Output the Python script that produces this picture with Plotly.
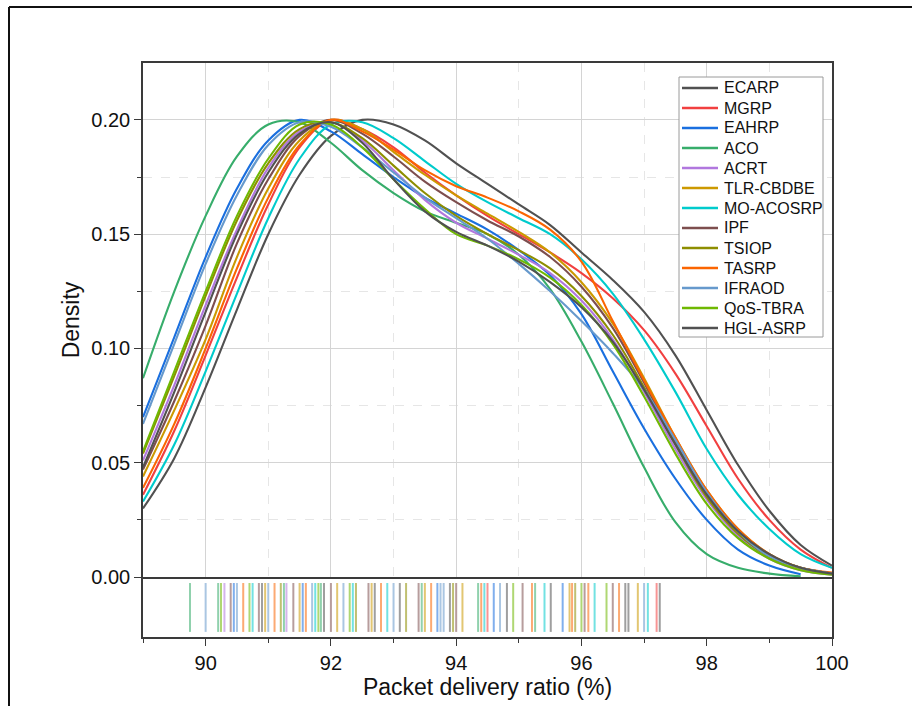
import plotly.graph_objects as go

# Packet delivery ratio grid (%) on which each density curve is tabulated
pdr_grid = [89.0, 89.5, 90.0, 90.5, 91.0, 91.5, 92.0, 92.5, 93.0, 93.5, 94.0, 94.5,
            95.0, 95.5, 96.0, 96.5, 97.0, 97.5, 98.0, 98.5, 99.0, 99.5, 100.0]

# Kernel density of the packet delivery ratio per protocol
ecarp_density = [0.030, 0.052, 0.083, 0.117, 0.150, 0.176, 0.193, 0.200, 0.198, 0.191, 0.181, 0.172,
                 0.163, 0.154, 0.142, 0.130, 0.116, 0.097, 0.073, 0.049, 0.029, 0.014, 0.005]
mgrp_density = [0.036, 0.064, 0.097, 0.131, 0.163, 0.188, 0.200, 0.196, 0.188, 0.177, 0.167, 0.158,
                0.150, 0.142, 0.133, 0.122, 0.108, 0.089, 0.066, 0.043, 0.025, 0.012, 0.004]
eahrp_density = [0.070, 0.105, 0.140, 0.170, 0.191, 0.200, 0.195, 0.185, 0.175, 0.166, 0.159, 0.152,
                 0.143, 0.132, 0.115, 0.090, 0.065, 0.043, 0.025, 0.012, 0.005, 0.0012]
aco_density = [0.087, 0.125, 0.158, 0.184, 0.198, 0.199, 0.190, 0.178, 0.168, 0.160, 0.155, 0.150,
               0.141, 0.126, 0.103, 0.076, 0.048, 0.024, 0.010, 0.004, 0.0015, 0.0003]
acrt_density = [0.051, 0.084, 0.119, 0.152, 0.179, 0.195, 0.199, 0.191, 0.178, 0.165, 0.155, 0.148,
                0.141, 0.133, 0.121, 0.104, 0.081, 0.056, 0.034, 0.018, 0.008, 0.003, 0.001]
tlr_density = [0.044, 0.073, 0.104, 0.140, 0.170, 0.191, 0.200, 0.196, 0.186, 0.176, 0.167, 0.159,
               0.151, 0.142, 0.129, 0.111, 0.087, 0.061, 0.038, 0.021, 0.010, 0.004, 0.0015]
moacosrp_density = [0.033, 0.058, 0.090, 0.124, 0.157, 0.183, 0.198, 0.199, 0.192, 0.182, 0.172, 0.164,
                    0.157, 0.150, 0.139, 0.124, 0.104, 0.081, 0.056, 0.036, 0.021, 0.010, 0.004]
ipf_density = [0.047, 0.077, 0.110, 0.146, 0.174, 0.193, 0.200, 0.194, 0.184, 0.173, 0.164, 0.156,
               0.149, 0.140, 0.127, 0.109, 0.085, 0.059, 0.036, 0.019, 0.009, 0.004, 0.0015]
tsiop_density = [0.054, 0.088, 0.123, 0.156, 0.181, 0.196, 0.199, 0.192, 0.180, 0.168, 0.158, 0.150,
                 0.143, 0.135, 0.123, 0.106, 0.083, 0.058, 0.035, 0.019, 0.009, 0.004, 0.0015]
tasrp_density = [0.039, 0.067, 0.100, 0.135, 0.166, 0.189, 0.200, 0.195, 0.187, 0.178, 0.171, 0.166,
                 0.160, 0.152, 0.138, 0.112, 0.086, 0.061, 0.038, 0.021, 0.010, 0.004, 0.002]
ifraod_density = [0.067, 0.102, 0.137, 0.167, 0.189, 0.199, 0.197, 0.188, 0.177, 0.166, 0.157, 0.148,
                  0.137, 0.125, 0.112, 0.098, 0.082, 0.060, 0.037, 0.020, 0.009, 0.004, 0.0015]
qos_density = [0.055, 0.090, 0.125, 0.158, 0.183, 0.198, 0.198, 0.188, 0.174, 0.161, 0.150, 0.145,
               0.139, 0.131, 0.119, 0.102, 0.079, 0.054, 0.032, 0.017, 0.008, 0.003, 0.001]
hgl_density = [0.048, 0.081, 0.116, 0.150, 0.177, 0.194, 0.199, 0.190, 0.174, 0.160, 0.151, 0.145,
               0.138, 0.129, 0.118, 0.103, 0.082, 0.058, 0.036, 0.020, 0.010, 0.004, 0.0015]

# Individual observations shown as a rug under the curves
ecarp_rug = [92.70, 93.90, 94.81, 95.51, 96.75, 97.25]
mgrp_rug = [94.50, 97.20]
eahrp_rug = [90.45, 91.55, 93.70, 94.60, 95.70]
aco_rug = [89.75, 90.20, 91.25, 91.84, 93.45, 94.35, 95.26]
acrt_rug = [90.30, 91.29]
tlr_rug = [90.95, 91.50, 92.10, 92.65, 93.50, 94.10, 95.81, 96.90]
moacosrp_rug = [90.75, 91.75, 92.35, 92.90, 94.45, 95.41, 96.21, 97.06]
ipf_rug = [90.40, 90.85, 91.40, 92.00, 92.60, 93.40, 94.00, 95.06, 96.05, 96.50]
tsiop_rug = [91.20, 92.40, 93.20, 93.95, 95.90]
tasrp_rug = [90.60, 91.10, 91.60, 92.80, 93.60, 94.40, 95.21, 95.85, 96.11, 96.60]
ifraod_rug = [90.00, 90.50, 91.00, 91.70, 92.20, 93.00, 93.75, 93.80, 94.70, 97.00]
qos_rug = [90.245, 90.70, 91.80, 92.30, 94.91, 96.00, 96.40]
hgl_rug = [90.90, 91.89, 93.10, 96.70]

protocols = ["ECARP", "MGRP", "EAHRP", "ACO", "ACRT", "TLR-CBDBE", "MO-ACOSRP",
             "IPF", "TSIOP", "TASRP", "IFRAOD", "QoS-TBRA", "HGL-ASRP"]
densities = [ecarp_density, mgrp_density, eahrp_density, aco_density, acrt_density, tlr_density,
             moacosrp_density, ipf_density, tsiop_density, tasrp_density, ifraod_density,
             qos_density, hgl_density]
rugs = [ecarp_rug, mgrp_rug, eahrp_rug, aco_rug, acrt_rug, tlr_rug, moacosrp_rug,
        ipf_rug, tsiop_rug, tasrp_rug, ifraod_rug, qos_rug, hgl_rug]
colors = ["#515151", "#F14040", "#1A6FDF", "#37AD6B", "#B177DE", "#CC9900", "#00CBCC",
          "#7D4E4E", "#8E8E00", "#FB6501", "#6699CC", "#6FB802", "#515151"]

x_major = [90, 92, 94, 96, 98, 100]
x_minor = [89, 91, 93, 95, 97, 99]
y_major = [0.00, 0.05, 0.10, 0.15, 0.20]
y_minor = [0.025, 0.075, 0.125, 0.175]

FONT = "Arial, Liberation Sans, sans-serif"
AXIS_COLOR = "#3a3a3a"
TEXT_COLOR = "#111111"

# Plot-area geometry in pixels, used to place the legend box in paper units
PLOT_L, PLOT_R, PLOT_T, PLOT_B = 143, 832, 63, 637


def px_x(px):
    return (px - PLOT_L) / (PLOT_R - PLOT_L)


def px_y(py):
    return (PLOT_B - py) / (PLOT_B - PLOT_T)


fig = go.Figure()

for name, dens, color in zip(protocols, densities, colors):
    fig.add_trace(go.Scatter(
        x=pdr_grid[:len(dens)], y=dens, name=name, mode="lines",
        line=dict(color=color, width=2.1, shape="spline", smoothing=1.0),
        xaxis="x", yaxis="y", showlegend=False,
    ))

for name, obs, color in zip(protocols, rugs, colors):
    xs, ys = [], []
    for v in obs:
        xs += [v, v, None]
        ys += [0.085, 0.9, None]
    fig.add_trace(go.Scatter(
        x=xs, y=ys, mode="lines", showlegend=False, hoverinfo="skip",
        line=dict(color=color, width=2), opacity=0.55,
        xaxis="x2", yaxis="y2",
    ))

fig.update_layout(
    width=912, height=706,
    margin=dict(l=PLOT_L, r=912 - PLOT_R, t=PLOT_T, b=706 - PLOT_B),
    paper_bgcolor="white", plot_bgcolor="white",
    font=dict(family=FONT, color=TEXT_COLOR),
    showlegend=False,
    xaxis=dict(
        domain=[0, 1], anchor="y", range=[89, 100],
        showline=True, mirror=True, linecolor=AXIS_COLOR, linewidth=1.5,
        ticks="", showticklabels=False,
        tickvals=x_major, showgrid=True, gridcolor="#d4d4d4", gridwidth=1,
        minor=dict(tickvals=x_minor, showgrid=True, gridcolor="#e6e6e6",
                   griddash="dash", gridwidth=1),
        zeroline=False,
    ),
    yaxis=dict(
        domain=[0.1045, 1], anchor="x", range=[0, 0.2249],
        showline=True, mirror=True, linecolor=AXIS_COLOR, linewidth=1.5,
        ticks="outside", ticklen=7, tickwidth=1.3, tickcolor=AXIS_COLOR,
        tickvals=y_major, tickformat=".2f",
        tickfont=dict(family=FONT, size=20, color=TEXT_COLOR),
        showgrid=True, gridcolor="#d4d4d4", gridwidth=1,
        minor=dict(tickvals=y_minor, ticks="outside", ticklen=4, tickcolor=AXIS_COLOR,
                   showgrid=True, gridcolor="#e6e6e6", griddash="dash", gridwidth=1),
        zeroline=False,
        title=dict(text="Density", font=dict(family=FONT, size=23, color=TEXT_COLOR),
                   standoff=5),
    ),
    xaxis2=dict(
        domain=[0, 1], anchor="y2", range=[89, 100], matches="x",
        showline=True, mirror=False, linecolor=AXIS_COLOR, linewidth=1.5,
        ticks="outside", ticklen=7, tickwidth=1.3, tickcolor=AXIS_COLOR,
        tickvals=x_major, tickfont=dict(family=FONT, size=20, color=TEXT_COLOR),
        minor=dict(tickvals=x_minor, ticks="outside", ticklen=4, tickcolor=AXIS_COLOR,
                   showgrid=False),
        showgrid=False, zeroline=False,
        title=dict(text="Packet delivery ratio (%)",
                   font=dict(family=FONT, size=23, color=TEXT_COLOR), standoff=3),
    ),
    yaxis2=dict(
        domain=[0, 0.1045], anchor="x2", range=[0, 1],
        showline=True, mirror=True, linecolor=AXIS_COLOR, linewidth=1.5,
        ticks="", showticklabels=False, showgrid=False, zeroline=False,
    ),
)

# Legend box with one line sample and label per protocol
fig.add_shape(type="rect", xref="paper", yref="paper",
              x0=px_x(679), x1=px_x(823), y0=px_y(337), y1=px_y(77),
              line=dict(color="#9a9a9a", width=1), fillcolor="white", layer="above")
for i, (name, color) in enumerate(zip(protocols, colors)):
    yc = px_y(88 + 20 * i)
    fig.add_shape(type="line", xref="paper", yref="paper",
                  x0=px_x(682), x1=px_x(718), y0=yc, y1=yc,
                  line=dict(color=color, width=2.5), layer="above")
    fig.add_annotation(xref="paper", yref="paper", x=px_x(722), y=yc,
                       xanchor="left", yanchor="middle", showarrow=False,
                       text=name, font=dict(family=FONT, size=16, color=TEXT_COLOR))

# Outer frame of the figure (left and top edges)
fig.add_shape(type="line", xref="paper", yref="paper",
              x0=px_x(9), x1=1.2, y0=px_y(7), y1=px_y(7),
              line=dict(color=TEXT_COLOR, width=2))
fig.add_shape(type="line", xref="paper", yref="paper",
              x0=px_x(9), x1=px_x(9), y0=px_y(7), y1=-0.2,
              line=dict(color=TEXT_COLOR, width=2))

fig.write_html("out.html")
